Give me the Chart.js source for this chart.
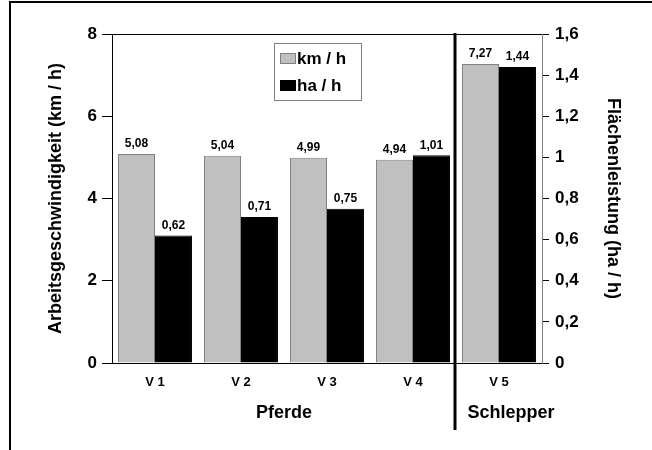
<!DOCTYPE html>
<html lang="de">
<head>
<meta charset="utf-8">
<title>Arbeitsgeschwindigkeit und Flächenleistung</title>
<script src="https://cdn.jsdelivr.net/npm/chart.js@4.4.0/dist/chart.umd.min.js"></script>
<style>
  html, body { margin: 0; padding: 0; background: #fff; }
  canvas { display: block; }
</style>
</head>
<body>
<canvas id="leistung" width="652" height="450"></canvas>
<script>
// Varianten und Messwerte
const categories = ['V 1', 'V 2', 'V 3', 'V 4', 'V 5'];
const speedKmh = [5.08, 5.04, 4.99, 4.94, 7.27];
const areaHaH = [0.62, 0.71, 0.75, 1.01, 1.44];

// Achsenbereiche
const speedMax = 8;
const speedStep = 2;
const areaMax = 1.6;
const areaStep = 0.2;

// Gruppen unter der x-Achse (erste und letzte Variante)
const groupNames = ['Pferde', 'Schlepper'];
const groupFirst = [0, 4];
const groupLast = [3, 4];

const FONT = 'Liberation Sans, Arial, Helvetica, sans-serif';
const komma = (v, d) => v.toFixed(d).replace('.', ',');

// Rahmen, Trennlinie, Gruppenbeschriftung, Werte und Legende
const extras = {
  id: 'extras',
  afterDraw(chart) {
    const { ctx, chartArea: area, scales } = chart;
    const x = scales.x;
    ctx.save();

    // Bildrahmen links und oben
    ctx.strokeStyle = '#000';
    ctx.lineWidth = 2;
    ctx.beginPath();
    ctx.moveTo(10, 450);
    ctx.lineTo(10, 2);
    ctx.lineTo(652, 2);
    ctx.stroke();

    // obere Begrenzung der Zeichenfläche
    ctx.lineWidth = 1;
    ctx.beginPath();
    ctx.moveTo(area.left, area.top + 0.5);
    ctx.lineTo(area.right, area.top + 0.5);
    ctx.stroke();

    // Trennlinie zwischen Pferden und Schlepper
    const sepX = (x.getPixelForValue(groupLast[0]) + x.getPixelForValue(groupFirst[1])) / 2;
    ctx.lineWidth = 3;
    ctx.beginPath();
    ctx.moveTo(sepX - 1, area.top - 1);
    ctx.lineTo(sepX - 1, 430);
    ctx.stroke();

    // Gruppennamen
    ctx.fillStyle = '#000';
    ctx.font = 'bold 18px ' + FONT;
    ctx.textAlign = 'center';
    ctx.textBaseline = 'middle';
    groupNames.forEach((name, i) => {
      let cx = (x.getPixelForValue(groupFirst[i]) + x.getPixelForValue(groupLast[i])) / 2;
      if (i === groupNames.length - 1) cx += 12;
      ctx.fillText(name, cx, 413);
    });

    // Werte über den Säulen
    ctx.font = 'bold 12px ' + FONT;
    ctx.textBaseline = 'bottom';
    chart.data.datasets.forEach((ds, di) => {
      chart.getDatasetMeta(di).data.forEach((bar, i) => {
        ctx.fillText(komma(ds.data[i], 2), bar.x, bar.y - 4);
      });
    });

    // Legende
    const lx = area.left + 162;
    const ly = area.top + 9;
    ctx.fillStyle = '#fff';
    ctx.fillRect(lx, ly, 88, 58);
    ctx.strokeStyle = '#808080';
    ctx.lineWidth = 1;
    ctx.strokeRect(lx + 0.5, ly + 0.5, 87, 57);
    ctx.textAlign = 'left';
    ctx.textBaseline = 'middle';
    ctx.font = 'bold 17px ' + FONT;
    chart.data.datasets.forEach((ds, di) => {
      const ry = ly + 15 + di * 27;
      ctx.fillStyle = ds.backgroundColor;
      ctx.fillRect(lx + 6, ry - 5, 16, 11);
      ctx.strokeStyle = ds.borderColor;
      ctx.strokeRect(lx + 6.5, ry - 4.5, 15, 10);
      ctx.fillStyle = '#000';
      ctx.fillText(ds.label, lx + 23, ry + 1);
    });

    ctx.restore();
  }
};

new Chart(document.getElementById('leistung').getContext('2d'), {
  type: 'bar',
  data: {
    labels: categories,
    datasets: [
      {
        label: 'km / h',
        data: speedKmh,
        yAxisID: 'y',
        backgroundColor: '#c0c0c0',
        borderColor: '#808080',
        borderWidth: 1
      },
      {
        label: 'ha / h',
        data: areaHaH,
        yAxisID: 'y1',
        backgroundColor: '#000000',
        borderColor: '#000000',
        borderWidth: 1
      }
    ]
  },
  options: {
    responsive: false,
    animation: false,
    layout: { padding: { top: 34, left: 0, right: 0, bottom: 0 } },
    datasets: { bar: { categoryPercentage: 0.86, barPercentage: 1 } },
    plugins: {
      legend: { display: false },
      tooltip: { enabled: false }
    },
    scales: {
      x: {
        grid: { display: false },
        border: { color: '#000', width: 1 },
        ticks: { color: '#000', font: { family: FONT, size: 13, weight: 'bold' }, padding: 4 },
        afterFit: s => { s.height = 87; }
      },
      y: {
        position: 'left',
        min: 0,
        max: speedMax,
        ticks: { stepSize: speedStep, color: '#000', padding: 5, font: { family: FONT, size: 17, weight: 'bold' } },
        grid: { drawOnChartArea: false, color: '#000', tickLength: 10 },
        border: { color: '#000', width: 1 },
        title: {
          display: true,
          text: 'Arbeitsgeschwindigkeit (km / h)',
          color: '#000',
          font: { family: FONT, size: 18, weight: 'bold' },
          padding: { top: 45, bottom: 0 }
        },
        afterFit: s => { s.width = 112; }
      },
      y1: {
        position: 'right',
        min: 0,
        max: areaMax,
        ticks: {
          stepSize: areaStep,
          color: '#000',
          padding: 6,
          font: { family: FONT, size: 17, weight: 'bold' },
          callback: v => String(Number(v.toFixed(1))).replace('.', ',')
        },
        grid: { drawOnChartArea: false, color: '#000', tickLength: 7 },
        border: { color: '#808080', width: 1 },
        title: {
          display: true,
          text: 'Flächenleistung (ha / h)',
          color: '#000',
          font: { family: FONT, size: 18, weight: 'bold' },
          padding: { top: 28, bottom: 0 }
        },
        afterFit: s => { s.width = 110; }
      }
    }
  },
  plugins: [extras]
});
</script>
</body>
</html>
